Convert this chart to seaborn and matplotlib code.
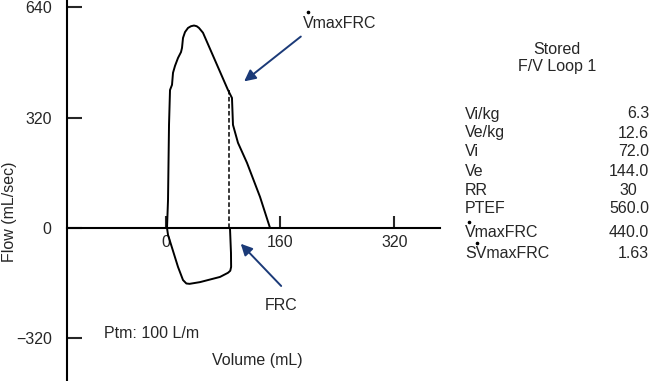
import numpy as np
import pandas as pd
import matplotlib
matplotlib.use('Agg')
import matplotlib.pyplot as plt
import seaborn as sns

# Flow-volume loop (volume in mL, flow in mL/sec)
exp_volume = [1.4, 2.8, 4.2, 5.6, 8.4, 9.8, 12.6, 16.8, 21.0, 22.4, 23.8, 26.6, 30.8, 35.0, 39.2, 43.0, 46.2,
              51.8, 86.8, 92.4, 93.8, 100.8, 113.4, 131.7, 145.7]
exp_flow = [0, 81, 299, 400, 415, 450, 470, 493, 510, 522, 551, 568, 580, 585, 587, 585, 580,
            566, 400, 377, 299, 247, 189, 90, 0]
insp_volume = [89.6, 91.0, 91.2, 90.0, 86.8, 75.6, 47.6, 33.0, 28.5, 23.8, 16.8, 2.8, 1.4]
insp_flow = [0, -72, -113, -124, -130, -142, -157, -162, -161, -151, -113, -20, 0]

frc_volume = 88.2
frc_flow = 400

x_ticks = [0, 160, 320]
y_ticks = [640, 320, 0, -320]

stat_labels = ['Vi/kg', 'Ve/kg', 'Vi', 'Ve', 'RR', 'PTEF', 'VmaxFRC', 'SVmaxFRC']
stat_values = ['6.3', '12.6', '72.0', '144.0', '30', '560.0', '440.0', '1.63']

sns.set_style('white')
plt.rcParams['font.family'] = ['Liberation Sans', 'DejaVu Sans']
plt.rcParams['font.size'] = 11.5

W, H = 650, 381
fig = plt.figure(figsize=(W / 100, H / 100), dpi=100)
ax = fig.add_axes([67 / W, 0, (440 - 67) / W, 1])

exp_df = pd.DataFrame({'Volume': exp_volume, 'Flow': exp_flow})
insp_df = pd.DataFrame({'Volume': insp_volume, 'Flow': insp_flow})
sns.lineplot(data=exp_df, x='Volume', y='Flow', sort=False, estimator=None, color='black', lw=1.4, ax=ax)
sns.lineplot(data=insp_df, x='Volume', y='Flow', sort=False, estimator=None, color='black', lw=1.4, ax=ax)
ax.plot([frc_volume, frc_volume], [0, frc_flow], color='black', lw=1.1, ls=(0, (3, 1.6)))

ax.set_xlim(-138.7, 383.8)
ax.set_ylim(-443.7, 661)

for s in ['top', 'right']:
    ax.spines[s].set_visible(False)
ax.spines['bottom'].set_position(('data', 0))
for s in ['left', 'bottom']:
    ax.spines[s].set_linewidth(1.5)
    ax.spines[s].set_color('black')

ax.set_xticks(x_ticks)
ax.set_yticks(y_ticks)
ax.set_yticklabels([str(v).replace('-', '\u2212') for v in y_ticks])
ax.tick_params(axis='y', left=True, direction='in', length=11, width=1.5, pad=11, labelsize=11.5)
ax.tick_params(axis='x', bottom=True, direction='in', length=9, width=1.5, pad=5, labelsize=11.5)
ax.set_xlabel('')
ax.set_ylabel('')

# arrows
navy = '#1b3a78'
ax.annotate('', xy=(106.4, 420), xytext=(191.9, 560),
            arrowprops=dict(arrowstyle='-|>', color=navy, lw=1.4, mutation_scale=17))
ax.annotate('', xy=(102, -40), xytext=(164, -174),
            arrowprops=dict(arrowstyle='-|>', color=navy, lw=1.4, mutation_scale=17))

def fy(y):
    return 1 - y / H

def dot(x, y):
    # the small "dot above V" of V-dot
    ax.plot([x / W], [fy(y)], 'o', color='black', ms=1.6, transform=fig.transFigure, clip_on=False)

fig.text(303 / W, fy(23), 'VmaxFRC', ha='left', va='center', fontsize=11.5)
dot(308, 12)
fig.text(281 / W, fy(306), 'FRC', ha='center', va='center', fontsize=11.5)
fig.text(104 / W, fy(333), 'Ptm: 100 L/m', ha='left', va='center', fontsize=11.5)
fig.text(257 / W, fy(360), 'Volume (mL)', ha='center', va='center', fontsize=11.5)
fig.text(10 / W, fy(212), 'Flow (mL/sec)', ha='center', va='center', rotation=90, fontsize=11.5)

# stored loop table
fig.text(557 / W, fy(49), 'Stored', ha='center', va='center', fontsize=11.5)
fig.text(557 / W, fy(67), 'F/V Loop 1', ha='center', va='center', fontsize=11.5)
row_y = [114, 133, 152, 171, 190, 209, 233, 254]
for lab, val, y in zip(stat_labels, stat_values, row_y):
    fig.text(465 / W, fy(y), lab, ha='left', va='center', fontsize=11.5)
    xr = 649 if '.' in val else 637
    fig.text(xr / W, fy(y), val, ha='right', va='center', fontsize=11.5)
dot(469, 222)
dot(477, 243)

fig.savefig('out.png', dpi=100)
